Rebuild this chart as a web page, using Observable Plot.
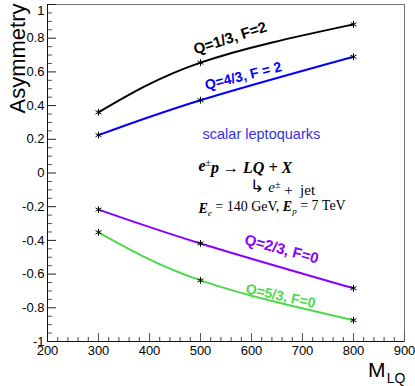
<!DOCTYPE html>
<html><head><meta charset="utf-8">
<script src="https://cdn.jsdelivr.net/npm/d3@7"></script>
<script src="https://cdn.jsdelivr.net/npm/@observablehq/plot@0.6"></script>
<style>body{margin:0;background:#fff} svg{display:block}</style>
</head><body><div id="chart"></div>
<script>
// ---- data ----
const mlq = [300, 500, 800];
const seriesNames = ["Q=1/3, F=2", "Q=4/3, F = 2", "Q=2/3, F=0", "Q=5/3, F=0"];
const seriesColors = ["#000000", "#0000ff", "#8800ff", "#4cd94c"];
const asymQ13 = [0.36, 0.655, 0.882];
const asymQ43 = [0.225, 0.432, 0.69];
const asymQ23 = [-0.217, -0.418, -0.684];
const asymQ53 = [-0.352, -0.637, -0.874];
const yTicks = [-1, -0.8, -0.6, -0.4, -0.2, 0, 0.2, 0.4, 0.6, 0.8, 1];
const xTicks = [200, 300, 400, 500, 600, 700, 800, 900];
const yMinor = d3.range(-100, 101, 5).filter(v => v % 20 !== 0).map(v => v / 100);
const xMinor = d3.range(200, 901, 20).filter(v => v % 100 !== 0);
// curve labels (placed in data coordinates)
const labX = [558, 584, 659, 657];
const labY = [0.80, 0.575, -0.452, -0.73];
const labRot = [-18, -14, 15, 12];
const labSize = [15, 14, 15, 14];
// physics annotations
const noteKeys = ["scalar", "proc", "decay", "beam"];
const noteX = [504, 496, 598, 496];
const noteY = [0.228, 0.044, -0.086, -0.211];

// ---- build table ----
const allSeries = [asymQ13, asymQ43, asymQ23, asymQ53];
const rows = allSeries.flatMap((vals, i) => mlq.map((m, j) => ({s: seriesNames[i], m, a: vals[j]})));
const labels = seriesNames.map((n, i) => ({s: n, x: labX[i], y: labY[i], r: labRot[i], f: labSize[i]}));

const W = 415, H = 386, ML = 47, MR = 11, MT = 4, MB = 45;
const PW = W - ML - MR, PH = H - MT - MB;
const sans = "'Liberation Sans', Arial, Helvetica, sans-serif";
const serif = "'Liberation Serif', 'Times New Roman', serif";

const plot = Plot.plot({
  width: W, height: H,
  marginLeft: ML, marginRight: MR, marginTop: MT, marginBottom: MB,
  style: {fontFamily: sans, fontSize: "13px", color: "#000", background: "#fff", overflow: "visible"},
  x: {domain: [200, 900], ticks: xTicks, tickSize: 0, tickPadding: 4, label: null},
  y: {domain: [-1, 1], ticks: yTicks, tickSize: 0, tickPadding: 3, label: null,
      tickFormat: d => String(+d.toFixed(1))},
  color: {domain: seriesNames, range: seriesColors},
  marks: [
    Plot.frame({stroke: "#777"}),
    Plot.tickY(yTicks, {y: d => d, insetRight: PW - 9, stroke: "#222"}),
    Plot.tickY(yMinor, {y: d => d, insetRight: PW - 5, stroke: "#555"}),
    Plot.tickX(xTicks, {x: d => d, insetTop: PH - 8, stroke: "#555"}),
    Plot.tickX(xMinor, {x: d => d, insetTop: PH - 4, stroke: "#444"}),
    Plot.ruleX([200], {stroke: "#111"}),
    Plot.ruleY([-1], {stroke: "#111"}),
    Plot.line(rows, {x: "m", y: "a", z: "s", stroke: "s", strokeWidth: 2, curve: "natural"}),
    Plot.dot(rows, {x: "m", y: "a", symbol: "asterisk", r: 3.2, stroke: "#000", strokeWidth: 1}),
    Plot.text(labels, {x: "x", y: "y", text: "s", rotate: "r", fill: "s",
      fontWeight: "bold", fontSize: "f", fontFamily: sans}),
    Plot.text(noteKeys, {x: (d, i) => noteX[i], y: (d, i) => noteY[i], text: d => d,
      textAnchor: "start", fontSize: 14, fontFamily: serif}),
    Plot.text(["Asymmetry"], {frameAnchor: "top-left", rotate: -90, textAnchor: "end",
      dx: -38, dy: -1, fontSize: 22, fontFamily: sans}),
    Plot.text(["M"], {frameAnchor: "bottom-right", textAnchor: "end", lineAnchor: "bottom",
      dx: -19, dy: 35, fontSize: 21, fontFamily: sans}),
    Plot.text(["LQ"], {frameAnchor: "bottom-right", textAnchor: "end", lineAnchor: "bottom",
      dx: 1, dy: 41, fontSize: 14, fontFamily: sans})
  ]
});

// ---- rich text for annotations ----
const svg = d3.select(plot);
// keep the top "1" tick label inside the picture
svg.selectAll("text").filter(function() { return this.textContent === "1"; }).attr("dy", "0.5em");
svg.selectAll("text").filter(function() { return noteKeys.includes(this.textContent); }).each(function() {
  const t = d3.select(this);
  const key = this.textContent;
  t.text(null);
  const add = (s, o = {}) => {
    const ts = t.append("tspan").text(s);
    if (o.bi) ts.attr("font-weight", "bold").attr("font-style", "italic");
    if (o.i) ts.attr("font-style", "italic");
    if (o.sup) ts.attr("dy", "-0.45em").attr("font-size", "10px");
    if (o.sub) ts.attr("dy", "0.35em").attr("font-size", "9px");
    if (o.back) ts.attr("dy", o.back);
    if (o.fs) ts.attr("font-size", o.fs);
    if (o.ff) ts.attr("font-family", o.ff);
    return ts;
  };
  if (key === "scalar") {
    t.attr("font-family", sans).attr("fill", "#3333dd").attr("font-size", "14.5px");
    add("scalar leptoquarks");
  } else if (key === "proc") {
    t.attr("font-size", "16px");
    add("e", {bi: true}); add("±", {sup: true}); add("p", {bi: true, back: "0.45em", fs: "16px"});
    add(" → ", {bi: true}); add("LQ", {bi: true}); add(" + ", {bi: true}); add("X", {bi: true});
  } else if (key === "decay") {
    t.attr("font-size", "15px");
    add("↳", {ff: serif, fs: "17px"}); add(" e", {i: true}); add("±", {sup: true});
    add(" +  jet", {back: "0.45em", fs: "15px"});
  } else if (key === "beam") {
    t.attr("font-size", "14px");
    add("E", {bi: true}); add("e", {sub: true, i: true}); add(" = 140 GeV, ", {back: "-0.35em", fs: "14px"});
    add("E", {bi: true}); add("p", {sub: true, i: true}); add(" = 7 TeV", {back: "-0.35em", fs: "14px"});
  }
});

document.getElementById("chart").appendChild(plot);
</script>
</body></html>
